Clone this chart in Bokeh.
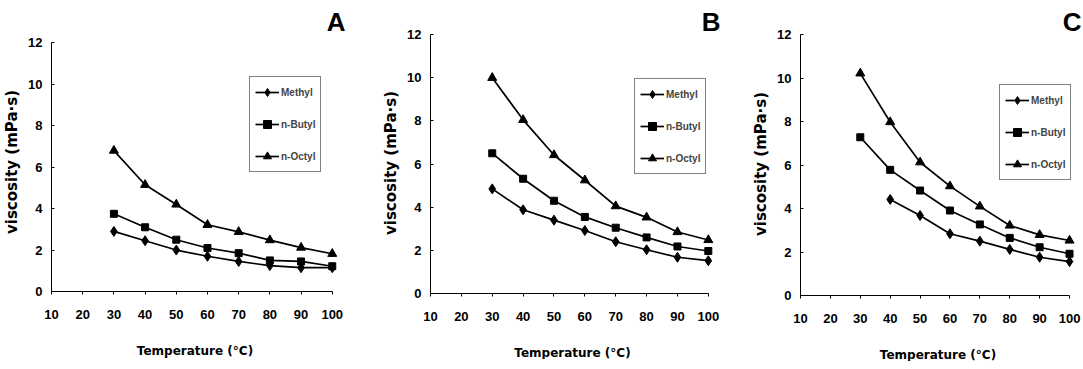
from bokeh.plotting import figure
from bokeh.models import Legend, LegendItem, FixedTicker
from bokeh.layouts import row
from bokeh.embed import file_html
from bokeh.resources import INLINE

# ---- data ----
temps = [30, 40, 50, 60, 70, 80, 90, 100]
temps_c_methyl = [40, 50, 60, 70, 80, 90, 100]
series_names = ["Methyl", "n-Butyl", "n-Octyl"]

a_methyl = [2.9, 2.45, 2.0, 1.7, 1.45, 1.25, 1.15, 1.15]
a_butyl = [3.75, 3.1, 2.5, 2.1, 1.85, 1.5, 1.45, 1.22]
a_octyl = [6.8, 5.15, 4.2, 3.22, 2.88, 2.48, 2.12, 1.82]

b_methyl = [4.85, 3.88, 3.4, 2.92, 2.4, 2.03, 1.68, 1.52]
b_butyl = [6.5, 5.32, 4.3, 3.55, 3.05, 2.6, 2.18, 1.97]
b_octyl = [10.0, 8.05, 6.42, 5.25, 4.05, 3.53, 2.85, 2.48]

c_methyl = [4.42, 3.68, 2.84, 2.5, 2.12, 1.76, 1.56]
c_butyl = [7.28, 5.78, 4.83, 3.91, 3.27, 2.65, 2.22, 1.92]
c_octyl = [10.22, 7.98, 6.13, 5.03, 4.1, 3.22, 2.79, 2.53]

x_ticks = [10, 20, 30, 40, 50, 60, 70, 80, 90, 100]
y_ticks = [0, 2, 4, 6, 8, 10, 12]
panel_letters = ["A", "B", "C"]

TICK_FONT = "Liberation Sans"
LABEL_FONT = "DejaVu Sans"


def make_panel(letter, xs_list, ys_list, y_end, fw, fh, borders, legend_loc, letter_offset):
    bl, br, bt, bb = borders
    p = figure(output_backend="svg", toolbar_location=None,
               x_range=(10, 102), y_range=(0, y_end),
               frame_width=fw, frame_height=fh,
               min_border_left=bl, min_border_right=br,
               min_border_top=bt, min_border_bottom=bb,
               title=letter)
    p.outline_line_color = None
    p.grid.visible = False
    p.background_fill_color = "white"
    p.border_fill_color = "white"

    t = p.title
    t.align = "right"
    t.text_font = TICK_FONT
    t.text_font_style = "bold"
    t.text_font_size = "26px"
    t.text_color = "black"
    t.standoff = -9
    t.text_line_height = 1.0
    t.offset = letter_offset

    markers = ["diamond", "square", "triangle"]
    sizes = [10, 7, 9]
    items = []
    for name, xs, ys, m, s in zip(series_names, xs_list, ys_list, markers, sizes):
        r1 = p.line(xs, ys, line_color="black", line_width=1.7)
        r2 = p.scatter(xs, ys, marker=m, size=s, fill_color="black", line_color="black")
        items.append(LegendItem(label=name, renderers=[r1, r2]))

    legend = Legend(items=items, location=legend_loc)
    legend.border_line_color = "black"
    legend.border_line_width = 1
    legend.background_fill_color = "white"
    legend.background_fill_alpha = 1.0
    legend.padding = 5
    legend.spacing = 12
    legend.margin = 0
    legend.glyph_width = 24
    legend.glyph_height = 20
    legend.label_height = 20
    legend.label_standoff = 2
    legend.label_text_font = TICK_FONT
    legend.label_text_font_style = "bold"
    legend.label_text_font_size = "10px"
    p.add_layout(legend)

    xa = p.xaxis[0]
    xa.ticker = FixedTicker(ticks=x_ticks)
    xa.bounds = (10, 100)
    xa.axis_label = "Temperature (°C)"
    xa.minor_tick_line_color = None
    xa.major_tick_in = 0
    xa.major_tick_out = 3
    xa.major_label_standoff = 15
    xa.axis_label_standoff = 22
    ya = p.yaxis[0]
    ya.ticker = FixedTicker(ticks=y_ticks)
    ya.bounds = (0, 12)
    ya.axis_label = "viscosity (mPa·s)"
    ya.minor_tick_line_color = None
    ya.major_tick_in = 3
    ya.major_tick_out = 0
    ya.major_label_standoff = 9
    ya.axis_label_standoff = 4
    for ax in (xa, ya):
        ax.axis_line_color = "black"
        ax.axis_line_width = 1
        ax.major_tick_line_color = "black"
        ax.major_label_text_font = TICK_FONT
        ax.major_label_text_font_style = "bold"
        ax.major_label_text_font_size = "13px"
        ax.major_label_text_color = "black"
        ax.axis_label_text_font = LABEL_FONT
        ax.axis_label_text_font_style = "bold"
        ax.axis_label_text_color = "black"
    xa.axis_label_text_font_size = "12px"
    ya.axis_label_text_font_size = "15px"
    return p


pA = make_panel(panel_letters[0], [temps, temps, temps], [a_methyl, a_butyl, a_octyl],
                12.5, 287, 259, (48, 41, 32, 62), (198, 119), -7)
pB = make_panel(panel_letters[1], [temps, temps, temps], [b_methyl, b_butyl, b_octyl],
                12.1, 284, 261, (46, 35, 29, 63), (204, 119), -6)
pC = make_panel(panel_letters[2], [temps_c_methyl, temps, temps], [c_methyl, c_butyl, c_octyl],
                12.1, 275, 263, (42, 9, 29, 61), (199, 115), -6)

layout = row(pA, pB, pC)
open("out.html", "w").write(file_html(layout, INLINE))
